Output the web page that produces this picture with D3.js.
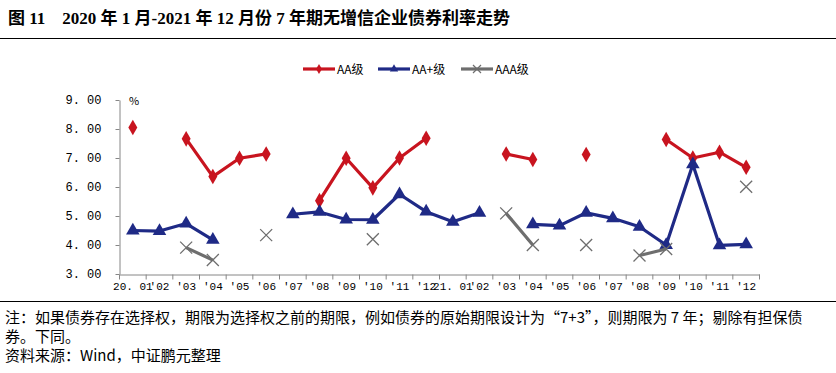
<!DOCTYPE html>
<html>
  <head>
    <title>7年期无增信企业债券利率走势</title>
    <meta http-equiv="Content-Type" content="text/html; charset=UTF-8">
    <script src="https://d3js.org/d3.v7.min.js"></script>
    <style>
      body { margin: 0; background: #fff; }
    </style>
  </head>

  <body>

    <div id="chart">
    </div>

    <script>
      // month labels, 2020.01 - 2021.12
      var months = ["20. 01", "'02", "'03", "'04", "'05", "'06", "'07", "'08", "'09", "'10", "'11", "'12",
                    "21. 01", "'02", "'03", "'04", "'05", "'06", "'07", "'08", "'09", "'10", "'11", "'12"];

      var aa     = [8.05, null, 7.66, 6.36, 6.99, 7.14, null, 5.53, 6.99, 5.97, 7.00, 7.68,
                    null, null, 7.14, 6.95, null, 7.12, null, null, 7.64, 7.00, 7.20, 6.68];
      var aaPlus = [4.50, 4.48, 4.74, 4.18, null, null, 5.06, 5.14, 4.88, 4.87, 5.75, 5.15,
                    4.80, 5.11, null, 4.71, 4.67, 5.11, 4.92, 4.63, 4.00, 6.78, 3.99, 4.02];
      var aaa    = [null, null, 3.91, 3.48, null, 4.34, null, null, null, 4.20, null, null,
                    null, null, 5.09, 4.00, null, 4.00, null, 3.64, 3.86, null, null, 6.01];

      var yTicks = [3, 4, 5, 6, 7, 8, 9];

      var seriesNames = ["AA级", "AA+级", "AAA级"];
      var seriesColors = ["#c8141f", "#1f2a86", "#6e6e6e"];

      var W = 836, H = 373;
      var svg = d3.select("#chart").append("svg").attr("width", W).attr("height", H);

      // title
      svg.append("text")
        .attr("x", 8).attr("y", 24)
        .style("font-family", "'Liberation Serif', 'Noto Sans CJK SC', serif")
        .style("font-weight", "bold").style("font-size", "17px")
        .text("图 11\u00a0\u00a0\u00a0\u00a02020 年 1 月-2021 年 12 月份 7 年期无增信企业债券利率走势");
      svg.append("line").attr("x1", 0).attr("x2", W).attr("y1", 38.5).attr("y2", 38.5)
        .attr("stroke", "#000").attr("stroke-width", 1.2);

      var x = d3.scaleBand().domain(d3.range(months.length)).range([119.5, 759.5]);
      var y = d3.scaleLinear().domain([3, 9]).range([274, 100]);
      var axisColor = "#868686";
      var tickFont = "'Liberation Mono', monospace";

      // y axis
      var gy = svg.append("g").attr("transform", "translate(119.5,0)")
        .call(d3.axisLeft(y).tickValues(yTicks).tickSize(4).tickSizeOuter(0).tickPadding(14)
          .tickFormat(function(d) { return d3.format(".2f")(d).replace(".", ". "); }));
      gy.select(".domain").attr("stroke", axisColor);
      gy.selectAll(".tick line").attr("stroke", axisColor);
      gy.selectAll("text").style("font-family", tickFont).style("font-size", "12px").attr("fill", "#000");

      svg.append("text").attr("x", 129).attr("y", 105)
        .style("font-family", "'Noto Sans CJK SC', sans-serif").style("font-size", "11px").text("%");

      // x axis
      var gx = svg.append("g").attr("transform", "translate(0,274.5)")
        .call(d3.axisBottom(x).tickSize(0).tickPadding(8).tickFormat(function(i) { return months[i]; }));
      gx.select(".domain").attr("stroke", axisColor);
      gx.selectAll("text").style("font-family", tickFont).style("font-size", "11px").attr("fill", "#000");
      gx.selectAll(".bound").data(d3.range(months.length + 1)).enter().append("line")
        .attr("x1", function(i) { return i < months.length ? x(i) : x.range()[1]; })
        .attr("x2", function(i) { return i < months.length ? x(i) : x.range()[1]; })
        .attr("y1", 0).attr("y2", 5).attr("stroke", axisColor);

      function cx(i) { return x(i) + x.bandwidth() / 2; }

      var line = d3.line()
        .defined(function(d) { return d != null; })
        .x(function(d, i) { return cx(i); })
        .y(function(d) { return y(d); });

      var allSeries = [aa, aaPlus, aaa];
      var diamond = d3.symbol().type(d3.symbolDiamond).size(70);
      var tri = d3.symbol().type(d3.symbolTriangle).size(80);

      allSeries.forEach(function(values, k) {
        var col = seriesColors[k];
        svg.append("path").datum(values)
          .attr("fill", "none").attr("stroke", col).attr("stroke-width", 3.2)
          .attr("stroke-linejoin", "round")
          .attr("d", line);
        var pts = values.map(function(v, i) { return { i: i, v: v }; }).filter(function(p) { return p.v != null; });
        var g = svg.append("g");
        if (k == 2) {
          g.selectAll("path").data(pts).enter().append("path")
            .attr("transform", function(p) { return "translate(" + cx(p.i) + "," + y(p.v) + ")"; })
            .attr("d", "M-6,-6L6,6M-6,6L6,-6")
            .attr("stroke", col).attr("stroke-width", 1.3).attr("fill", "none");
        } else {
          g.selectAll("path").data(pts).enter().append("path")
            .attr("transform", function(p) { return "translate(" + cx(p.i) + "," + y(p.v) + ")"; })
            .attr("d", k == 0 ? diamond : tri)
            .attr("fill", col);
        }
      });

      // legend
      var legendX = [303, 378, 461];
      var lg = svg.append("g").attr("transform", "translate(0,69)");
      seriesNames.forEach(function(name, k) {
        var g = lg.append("g").attr("transform", "translate(" + legendX[k] + ",0)");
        g.append("line").attr("x1", 0).attr("x2", 32).attr("stroke", seriesColors[k]).attr("stroke-width", 3.2);
        if (k == 2) {
          g.append("path").attr("transform", "translate(16,0)").attr("d", "M-4,-4L4,4M-4,4L4,-4")
            .attr("stroke", seriesColors[k]).attr("stroke-width", 1.2);
        } else {
          g.append("path").attr("transform", "translate(16,0)")
            .attr("d", d3.symbol().type(k == 0 ? d3.symbolDiamond : d3.symbolTriangle).size(30))
            .attr("fill", seriesColors[k]);
        }
        g.append("text").attr("x", 34).attr("y", 4.5)
          .style("font-family", "'Noto Sans CJK SC', sans-serif").style("font-size", "12px")
          .text(name);
      });

      // notes
      svg.append("line").attr("x1", 0).attr("x2", W).attr("y1", 301.5).attr("y2", 301.5)
        .attr("stroke", "#000").attr("stroke-width", 1.2);
      var notes = ["注：如果债券存在选择权，期限为选择权之前的期限，例如债券的原始期限设计为“7+3”，则期限为 7 年；剔除有担保债",
                   "券。下同。",
                   "资料来源：Wind，中证鹏元整理"];
      svg.selectAll(".note").data(notes).enter().append("text")
        .attr("x", 5).attr("y", function(d, i) { return 323 + i * 19; })
        .style("font-family", "'Noto Sans CJK SC', sans-serif").style("font-size", "15px")
        .text(function(d) { return d; });
    </script>
  </body>
</html>
